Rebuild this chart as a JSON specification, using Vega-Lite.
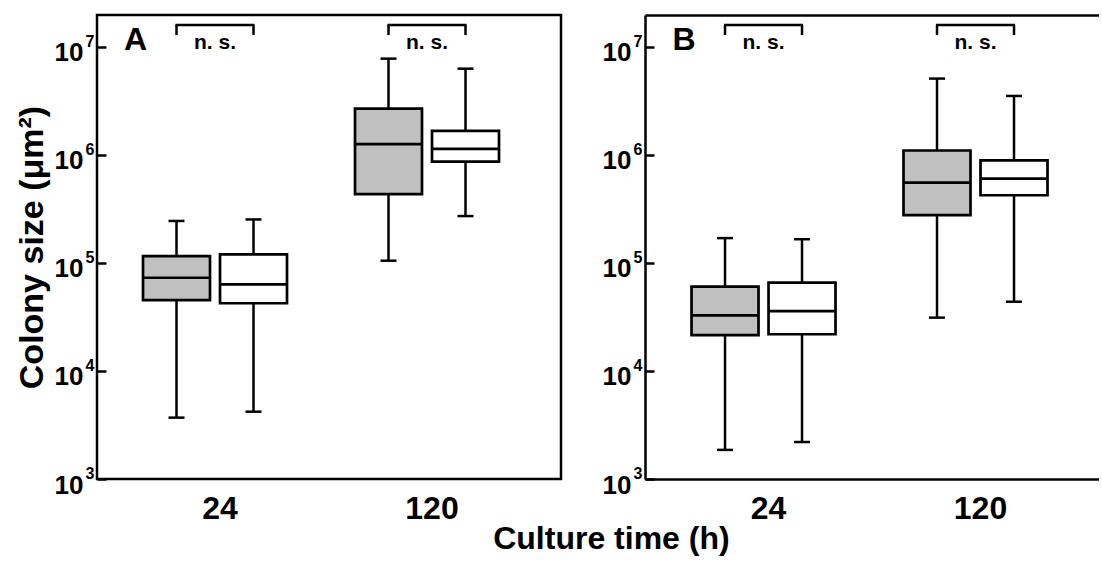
{
  "$schema": "https://vega.github.io/schema/vega-lite/v6.json",
  "padding": {"left": 13, "top": 13, "right": 0, "bottom": 0},
  "background": "white",
  "datasets": {
    "boxes": [
      {"panel": "A", "time": 24, "group": "Group 1", "min": 3700, "q1": 45400, "median": 73000, "q3": 116000, "max": 245000},
      {"panel": "A", "time": 24, "group": "Group 2", "min": 4200, "q1": 42400, "median": 63500, "q3": 120000, "max": 253000},
      {"panel": "A", "time": 120, "group": "Group 1", "min": 105000, "q1": 435000, "median": 1260000, "q3": 2690000, "max": 7800000},
      {"panel": "A", "time": 120, "group": "Group 2", "min": 272000, "q1": 867000, "median": 1140000, "q3": 1670000, "max": 6300000},
      {"panel": "B", "time": 24, "group": "Group 1", "min": 1860, "q1": 21500, "median": 32800, "q3": 60400, "max": 170000},
      {"panel": "B", "time": 24, "group": "Group 2", "min": 2200, "q1": 21900, "median": 35900, "q3": 65800, "max": 166000},
      {"panel": "B", "time": 120, "group": "Group 1", "min": 31200, "q1": 278000, "median": 555000, "q3": 1100000, "max": 5100000},
      {"panel": "B", "time": 120, "group": "Group 2", "min": 43800, "q1": 424000, "median": 604000, "q3": 893000, "max": 3520000}
    ],
    "legs": [
      {"panel": "A", "time": 24, "group": "Group 1", "low": 12900000, "high": 16000000},
      {"panel": "A", "time": 24, "group": "Group 2", "low": 12900000, "high": 16000000},
      {"panel": "A", "time": 120, "group": "Group 1", "low": 12900000, "high": 16000000},
      {"panel": "A", "time": 120, "group": "Group 2", "low": 12900000, "high": 16000000},
      {"panel": "B", "time": 24, "group": "Group 1", "low": 12900000, "high": 16000000},
      {"panel": "B", "time": 24, "group": "Group 2", "low": 12900000, "high": 16000000},
      {"panel": "B", "time": 120, "group": "Group 1", "low": 12900000, "high": 16000000},
      {"panel": "B", "time": 120, "group": "Group 2", "low": 12900000, "high": 16000000}
    ],
    "signif": [
      {"panel": "A", "time": 24, "label": "n. s.", "label_y": 10900000, "bar_y": 16000000},
      {"panel": "A", "time": 120, "label": "n. s.", "label_y": 10900000, "bar_y": 16000000},
      {"panel": "B", "time": 24, "label": "n. s.", "label_y": 10900000, "bar_y": 16000000},
      {"panel": "B", "time": 120, "label": "n. s.", "label_y": 10900000, "bar_y": 16000000}
    ],
    "panel_labels": [
      {"panel": "A", "label": "A"},
      {"panel": "B", "label": "B"}
    ]
  },
  "title": {
    "text": "Culture time (h)",
    "orient": "bottom",
    "anchor": "middle",
    "frame": "bounds",
    "font": "Liberation Sans",
    "fontSize": 32,
    "fontWeight": "bold",
    "color": "black",
    "offset": -1,
    "dx": 55
  },
  "bounds": "flush",
  "spacing": 84,
  "hconcat": [
    {
      "width": 464,
      "height": 464,
      "resolve": {"axis": {"y": "independent"}},
      "layer": [
        {
          "data": {"name": "boxes"},
          "transform": [{"filter": "datum.panel === 'A'"}],
          "mark": {"type": "rule", "color": "black", "strokeWidth": 2.5},
          "encoding": {
            "x": {"field": "time", "type": "nominal", "sort": [24, 120], "scale": {"paddingInner": 0, "paddingOuter": 0.0943, "align": 0.3},
              "axis": {"title": null, "ticks": false, "domain": false, "labelAngle": 0, "labelFontSize": 32, "labelBaseline": "alphabetic", "labelPadding": 39, "labelOffset": 5}},
            "xOffset": {"field": "group", "type": "nominal", "scale": {"paddingInner": 0.13, "paddingOuter": 0.4416}},
            "y": {"field": "min", "type": "quantitative", "scale": {"type": "log", "domain": [1000, 19780000], "nice": false},
              "axis": {"orient": "left", "title": "Colony size (μm²)", "values": [1000, 10000, 100000, 1000000, 10000000], "labelExpr": "'10'", "tickSize": -9, "labelPadding": 23, "labelFontSize": 26, "labelOffset": 6, "domain": false, "titleFontSize": 34, "titlePadding": 5}},
            "y2": {"field": "q1"}
          }
        },
        {
          "data": {"name": "boxes"},
          "transform": [{"filter": "datum.panel === 'A'"}],
          "mark": {"type": "rule", "color": "black", "strokeWidth": 2.5},
          "encoding": {
            "x": {"field": "time", "type": "nominal", "sort": [24, 120]},
            "xOffset": {"field": "group", "type": "nominal"},
            "y": {"field": "q3", "type": "quantitative",
              "axis": {"orient": "left", "title": null, "values": [1000, 10000, 100000, 1000000, 10000000], "labelExpr": "'' + round(log(datum.value) / LN10)", "ticks": false, "domain": false, "labelPadding": 3, "labelFontSize": 16, "labelOffset": -5.5}},
            "y2": {"field": "max"}
          }
        },
        {
          "data": {"name": "boxes"},
          "transform": [{"filter": "datum.panel === 'A'"}],
          "mark": {"type": "tick", "color": "black", "opacity": 1, "thickness": 2.5, "size": 16, "orient": "horizontal"},
          "encoding": {
            "x": {"field": "time", "type": "nominal", "sort": [24, 120]},
            "xOffset": {"field": "group", "type": "nominal"},
            "y": {"field": "min", "type": "quantitative", "axis": null}
          }
        },
        {
          "data": {"name": "boxes"},
          "transform": [{"filter": "datum.panel === 'A'"}],
          "mark": {"type": "tick", "color": "black", "opacity": 1, "thickness": 2.5, "size": 16, "orient": "horizontal"},
          "encoding": {
            "x": {"field": "time", "type": "nominal", "sort": [24, 120]},
            "xOffset": {"field": "group", "type": "nominal"},
            "y": {"field": "max", "type": "quantitative", "axis": null}
          }
        },
        {
          "data": {"name": "boxes"},
          "transform": [{"filter": "datum.panel === 'A'"}],
          "mark": {"type": "bar", "stroke": "black", "strokeWidth": 2.7, "opacity": 1},
          "encoding": {
            "x": {"field": "time", "type": "nominal", "sort": [24, 120]},
            "xOffset": {"field": "group", "type": "nominal"},
            "y": {"field": "q1", "type": "quantitative", "axis": null},
            "y2": {"field": "q3"},
            "fill": {"field": "group", "type": "nominal", "scale": {"domain": ["Group 1", "Group 2"], "range": ["#c0c0c0", "#ffffff"]}, "legend": null}
          }
        },
        {
          "data": {"name": "boxes"},
          "transform": [{"filter": "datum.panel === 'A'"}],
          "mark": {"type": "tick", "color": "black", "opacity": 1, "thickness": 2.7, "size": 67, "orient": "horizontal"},
          "encoding": {
            "x": {"field": "time", "type": "nominal", "sort": [24, 120]},
            "xOffset": {"field": "group", "type": "nominal"},
            "y": {"field": "median", "type": "quantitative", "axis": null}
          }
        },
        {
          "data": {"name": "legs"},
          "transform": [{"filter": "datum.panel === 'A'"}],
          "mark": {"type": "rule", "color": "black", "strokeWidth": 2.5},
          "encoding": {
            "x": {"field": "time", "type": "nominal", "sort": [24, 120]},
            "xOffset": {"field": "group", "type": "nominal"},
            "y": {"field": "low", "type": "quantitative", "axis": null},
            "y2": {"field": "high"}
          }
        },
        {
          "data": {"name": "signif"},
          "transform": [{"filter": "datum.panel === 'A'"}],
          "mark": {"type": "tick", "color": "black", "opacity": 1, "thickness": 2.5, "size": 79, "orient": "horizontal"},
          "encoding": {
            "x": {"field": "time", "type": "nominal", "sort": [24, 120]},
            "y": {"field": "bar_y", "type": "quantitative", "axis": null}
          }
        },
        {
          "data": {"name": "signif"},
          "transform": [{"filter": "datum.panel === 'A'"}],
          "mark": {"type": "text", "font": "Liberation Sans", "fontWeight": "bold", "fontSize": 21, "color": "black", "baseline": "middle"},
          "encoding": {
            "x": {"field": "time", "type": "nominal", "sort": [24, 120]},
            "y": {"field": "label_y", "type": "quantitative", "axis": null},
            "text": {"field": "label"}
          }
        },
        {
          "data": {"name": "panel_labels"},
          "transform": [{"filter": "datum.panel === 'A'"}],
          "mark": {"type": "text", "font": "Liberation Sans", "fontWeight": "bold", "fontSize": 32, "color": "black", "baseline": "alphabetic", "align": "center", "dx": -41},
          "encoding": {
            "x": {"datum": 24, "type": "nominal"},
            "xOffset": {"datum": "Group 1", "type": "nominal"},
            "y": {"datum": 9400000, "type": "quantitative", "axis": null},
            "text": {"field": "label"}
          }
        }
      ]
    },
    {
      "width": 454,
      "height": 464,
      "view": {"stroke": null},
      "resolve": {"axis": {"y": "independent", "x": "independent"}},
      "layer": [
        {
          "data": {"name": "boxes"},
          "transform": [{"filter": "datum.panel === 'B'"}],
          "mark": {"type": "rule", "color": "black", "strokeWidth": 2.5},
          "encoding": {
            "x": {"field": "time", "type": "nominal", "sort": [24, 120], "scale": {"paddingInner": 0, "paddingOuter": 0.0708, "align": 0.417},
              "axis": {"orient": "bottom", "title": null, "ticks": false, "domain": true, "labelAngle": 0, "labelFontSize": 32, "labelBaseline": "alphabetic", "labelPadding": 39, "labelOffset": 5}},
            "xOffset": {"field": "group", "type": "nominal", "scale": {"paddingInner": 0.13, "paddingOuter": 0.4416}},
            "y": {"field": "min", "type": "quantitative", "scale": {"type": "log", "domain": [1000, 19780000], "nice": false},
              "axis": {"orient": "left", "title": null, "values": [1000, 10000, 100000, 1000000, 10000000], "labelExpr": "'10'", "tickSize": -9, "labelPadding": 23, "labelFontSize": 26, "labelOffset": 6, "domain": true}},
            "y2": {"field": "q1"}
          }
        },
        {
          "data": {"name": "boxes"},
          "transform": [{"filter": "datum.panel === 'B'"}],
          "mark": {"type": "rule", "color": "black", "strokeWidth": 2.5},
          "encoding": {
            "x": {"field": "time", "type": "nominal", "sort": [24, 120],
              "axis": {"orient": "top", "title": null, "labels": false, "ticks": false, "domain": true}},
            "xOffset": {"field": "group", "type": "nominal"},
            "y": {"field": "q3", "type": "quantitative",
              "axis": {"orient": "left", "title": null, "values": [1000, 10000, 100000, 1000000, 10000000], "labelExpr": "'' + round(log(datum.value) / LN10)", "ticks": false, "domain": false, "labelPadding": 3, "labelFontSize": 16, "labelOffset": -5.5}},
            "y2": {"field": "max"}
          }
        },
        {
          "data": {"name": "boxes"},
          "transform": [{"filter": "datum.panel === 'B'"}],
          "mark": {"type": "tick", "color": "black", "opacity": 1, "thickness": 2.5, "size": 16, "orient": "horizontal"},
          "encoding": {
            "x": {"field": "time", "type": "nominal", "sort": [24, 120], "axis": null},
            "xOffset": {"field": "group", "type": "nominal"},
            "y": {"field": "min", "type": "quantitative", "axis": null}
          }
        },
        {
          "data": {"name": "boxes"},
          "transform": [{"filter": "datum.panel === 'B'"}],
          "mark": {"type": "tick", "color": "black", "opacity": 1, "thickness": 2.5, "size": 16, "orient": "horizontal"},
          "encoding": {
            "x": {"field": "time", "type": "nominal", "sort": [24, 120], "axis": null},
            "xOffset": {"field": "group", "type": "nominal"},
            "y": {"field": "max", "type": "quantitative", "axis": null}
          }
        },
        {
          "data": {"name": "boxes"},
          "transform": [{"filter": "datum.panel === 'B'"}],
          "mark": {"type": "bar", "stroke": "black", "strokeWidth": 2.7, "opacity": 1},
          "encoding": {
            "x": {"field": "time", "type": "nominal", "sort": [24, 120], "axis": null},
            "xOffset": {"field": "group", "type": "nominal"},
            "y": {"field": "q1", "type": "quantitative", "axis": null},
            "y2": {"field": "q3"},
            "fill": {"field": "group", "type": "nominal", "scale": {"domain": ["Group 1", "Group 2"], "range": ["#c0c0c0", "#ffffff"]}, "legend": null}
          }
        },
        {
          "data": {"name": "boxes"},
          "transform": [{"filter": "datum.panel === 'B'"}],
          "mark": {"type": "tick", "color": "black", "opacity": 1, "thickness": 2.7, "size": 67, "orient": "horizontal"},
          "encoding": {
            "x": {"field": "time", "type": "nominal", "sort": [24, 120], "axis": null},
            "xOffset": {"field": "group", "type": "nominal"},
            "y": {"field": "median", "type": "quantitative", "axis": null}
          }
        },
        {
          "data": {"name": "legs"},
          "transform": [{"filter": "datum.panel === 'B'"}],
          "mark": {"type": "rule", "color": "black", "strokeWidth": 2.5},
          "encoding": {
            "x": {"field": "time", "type": "nominal", "sort": [24, 120], "axis": null},
            "xOffset": {"field": "group", "type": "nominal"},
            "y": {"field": "low", "type": "quantitative", "axis": null},
            "y2": {"field": "high"}
          }
        },
        {
          "data": {"name": "signif"},
          "transform": [{"filter": "datum.panel === 'B'"}],
          "mark": {"type": "tick", "color": "black", "opacity": 1, "thickness": 2.5, "size": 79, "orient": "horizontal"},
          "encoding": {
            "x": {"field": "time", "type": "nominal", "sort": [24, 120], "axis": null},
            "y": {"field": "bar_y", "type": "quantitative", "axis": null}
          }
        },
        {
          "data": {"name": "signif"},
          "transform": [{"filter": "datum.panel === 'B'"}],
          "mark": {"type": "text", "font": "Liberation Sans", "fontWeight": "bold", "fontSize": 21, "color": "black", "baseline": "middle"},
          "encoding": {
            "x": {"field": "time", "type": "nominal", "sort": [24, 120], "axis": null},
            "y": {"field": "label_y", "type": "quantitative", "axis": null},
            "text": {"field": "label"}
          }
        },
        {
          "data": {"name": "panel_labels"},
          "transform": [{"filter": "datum.panel === 'B'"}],
          "mark": {"type": "text", "font": "Liberation Sans", "fontWeight": "bold", "fontSize": 32, "color": "black", "baseline": "alphabetic", "align": "center", "dx": -41},
          "encoding": {
            "x": {"datum": 24, "type": "nominal", "axis": null},
            "xOffset": {"datum": "Group 1", "type": "nominal"},
            "y": {"datum": 9400000, "type": "quantitative", "axis": null},
            "text": {"field": "label"}
          }
        }
      ]
    }
  ],
  "config": {
    "view": {"stroke": "black", "strokeWidth": 2.5},
    "axis": {
      "grid": false,
      "labelFont": "Liberation Sans",
      "labelFontWeight": "bold",
      "labelColor": "black",
      "titleFont": "Liberation Sans",
      "titleFontWeight": "bold",
      "titleColor": "black",
      "domainColor": "black",
      "domainWidth": 2.5,
      "tickColor": "black",
      "tickWidth": 2.5
    }
  }
}
